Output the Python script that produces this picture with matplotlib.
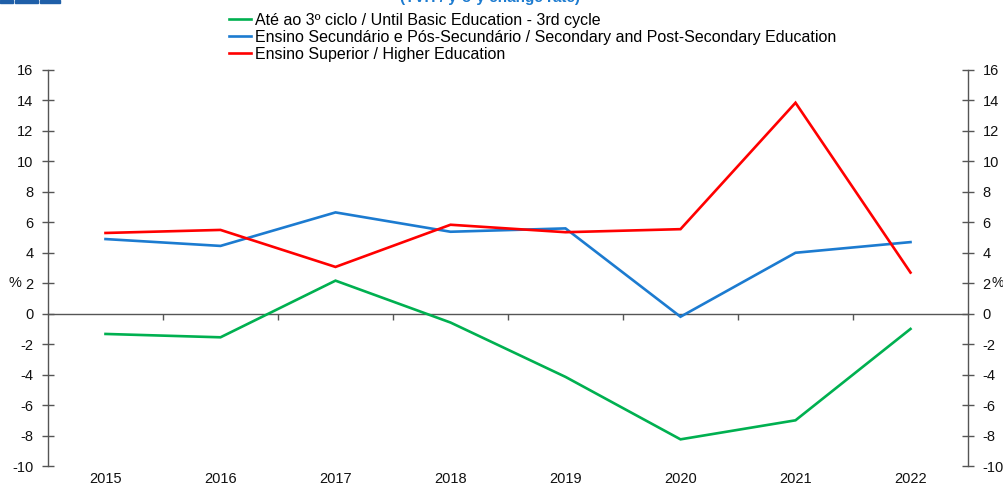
import numpy as np
import matplotlib
matplotlib.use('Agg')
import matplotlib.pyplot as plt
from matplotlib.patches import Rectangle

years = ['2015', '2016', '2017', '2018', '2019', '2020', '2021', '2022']
basic = [-1.33, -1.55, 2.17, -0.58, -4.15, -8.25, -7.0, -1.0]
secondary = [4.9, 4.45, 6.65, 5.38, 5.6, -0.2, 4.0, 4.7]
higher = [5.3, 5.5, 3.07, 5.84, 5.35, 5.55, 13.85, 2.7]

labels = ['Até ao 3º ciclo / Until Basic Education - 3rd cycle',
          'Ensino Secundário e Pós-Secundário / Secondary and Post-Secondary Education',
          'Ensino Superior / Higher Education']
colors = ['#00B050', '#1C7BD0', '#FF0000']
yticks = list(range(-10, 17, 2))

plt.rcParams['font.family'] = ['Liberation Sans', 'DejaVu Sans']
plt.rcParams['axes.unicode_minus'] = False

W, H = 1004, 486
fig = plt.figure(figsize=(W / 100, H / 100), dpi=100)
ax = fig.add_axes([48 / W, 20 / H, 920 / W, 396 / H])

x = np.arange(len(years))
for vals, lab, c in zip([basic, secondary, higher], labels, colors):
    ax.plot(x, vals, color=c, lw=1.9, label=lab, solid_joinstyle='miter')

ax.set_xlim(-0.5, len(years) - 0.5)
ax.set_ylim(-10, 16)

# y axes both sides
for s in ['top', 'bottom']:
    ax.spines[s].set_visible(False)
for s in ['left', 'right']:
    ax.spines[s].set_color('#555555')
    ax.spines[s].set_linewidth(1.0)
ax.set_yticks(yticks)
ax.tick_params(axis='y', which='both', direction='inout', length=9, width=1.0,
               color='#555555', labelsize=10.5, labelcolor='#111111',
               left=True, right=True, labelleft=True, labelright=True, pad=6)

# x labels at the bottom, no tick marks
ax.set_xticks(x)
ax.set_xticklabels(years)
ax.tick_params(axis='x', length=0, labelsize=10.5, labelcolor='#111111', pad=4)

# zero line with category boundary ticks
zero = ax.secondary_xaxis(10 / 26)
zero.spines['bottom'].set_color('#555555')
zero.spines['bottom'].set_linewidth(1.0)
zero.set_xticks(x[:-1] + 0.5)
zero.tick_params(axis='x', direction='out', length=4, width=1.0, color='#555555',
                 labelbottom=False)

# % labels
ax.text(-0.029, 2, '%', transform=ax.get_yaxis_transform(), ha='right', va='center',
        fontsize=10.5, color='#111111')
ax.text(1.026, 2, '%', transform=ax.get_yaxis_transform(), ha='left', va='center',
        fontsize=10, color='#111111')

fig.legend(loc='upper left', bbox_to_anchor=(229 / W, 1 - 13 / H), frameon=False,
           fontsize=11.5, handlelength=1.4, handletextpad=0.2, labelspacing=0.12,
           borderaxespad=0, borderpad=0)

# cut-off title and logo bar at top
fig.text(490 / W, 1 + 2 / H, '(TVH / y-o-y change rate)', ha='center', va='center',
         fontsize=11, fontweight='bold', color='#1C7BD0')
for x0, w in [(0, 13), (15, 23), (40, 20)]:
    fig.add_artist(Rectangle((x0 / W, 1 - 3 / H), w / W, 3 / H,
                             transform=fig.transFigure, color='#1F5FA8'))

fig.savefig('out.png', dpi=100)
